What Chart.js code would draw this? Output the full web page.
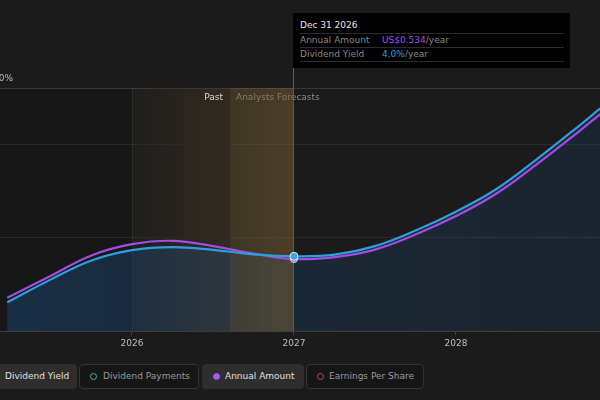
<!DOCTYPE html>
<html lang="en">
<head>
    <meta charset="UTF-8">
    <title>Dividend Chart</title>
    <script src="https://cdn.jsdelivr.net/npm/chart.js"></script>
    <style>
        body { margin: 0; background: #1b1b1b; font-family: "DejaVu Sans", sans-serif; width: 600px; height: 400px; overflow: hidden; position: relative; }
        #wrap { position: absolute; left: 0; top: 0; width: 600px; height: 352px; }
        .tip { position: absolute; left: 293px; top: 13px; width: 264px; height: 55px; background: #000; padding: 0 6px 0 7px; font-size: 9px; color: #8a8a8a; }
        .tip .row { height: 13px; line-height: 13px; border-bottom: 1px solid #2c2c2c; }
        .tip .head { color: #e8e8e8; height: 20px; line-height: 24px; }
        .tip .lab { display: inline-block; width: 82px; }
        .legend { position: absolute; top: 364px; left: 0; height: 25px; }
        .item { position: absolute; top: 0; height: 23px; border: 1px solid #333; border-radius: 4px; font-size: 9px; line-height: 23px; color: #9a9a9a; background: #161616; box-sizing: content-box; }
        .item.on { background: #2e2e2e; border-color: #2e2e2e; color: #e0e0e0; }
        .dot { position: absolute; top: 8px; width: 5px; height: 5px; border-radius: 50%; border: 1.5px solid; }
    </style>
</head>
<body>
    <div id="wrap"><canvas id="dividendChart"></canvas></div>

    <!-- tooltip at the hovered point -->
    <div class="tip">
        <div class="row head">Dec 31 2026</div>
        <div class="row"><span class="lab">Annual Amount</span><span style="color:#a04de6">US$0.534</span>/year</div>
        <div class="row"><span class="lab">Dividend Yield</span><span style="color:#2d9fe0">4.0%</span>/year</div>
    </div>

    <!-- legend -->
    <div class="legend">
        <div class="item on" style="left:-24px;width:99px;"><span style="position:absolute;left:28px;">Dividend Yield</span></div>
        <div class="item" style="left:79px;width:118px;"><span class="dot" style="left:10px;border-color:#3cb4a0;"></span><span style="position:absolute;left:23px;">Dividend Payments</span></div>
        <div class="item on" style="left:202px;width:100px;"><span class="dot" style="left:10px;border-color:#a855f7;background:#a855f7;"></span><span style="position:absolute;left:22px;">Annual Amount</span></div>
        <div class="item" style="left:306px;width:116px;"><span class="dot" style="left:10px;border-color:#c0407a;"></span><span style="position:absolute;left:22px;">Earnings Per Share</span></div>
    </div>

<script>
    // 數據 (年份, 股息率 %, 年度金額 US$)
    const years = [2025.23, 2025.5, 2025.75, 2026.0, 2026.25, 2026.5, 2026.75, 2027.0, 2027.25, 2027.5, 2027.75, 2028.0, 2028.25, 2028.5, 2028.75, 2028.89];
    const dividendYield = [1.54, 2.77, 3.78, 4.33, 4.49, 4.35, 4.11, 4.0, 4.09, 4.55, 5.38, 6.39, 7.60, 9.20, 10.91, 11.91];
    const annualAmount = [0.247, 0.411, 0.561, 0.644, 0.669, 0.630, 0.574, 0.534, 0.548, 0.604, 0.715, 0.852, 1.019, 1.237, 1.470, 1.607];
    const xTicks = [2026, 2027, 2028];
    const pastStart = 2026.0;   // 過去區域起點
    const today = 2026.605;     // Past / Analysts Forecasts 分界
    const hoverYear = 2027.0;   // tooltip 位置

    const ctx = document.getElementById('dividendChart').getContext('2d');

    // 背景區域 + 文字
    const shading = {
        id: 'shading',
        beforeDraw(chart) {
            const { ctx, chartArea: a, scales: { x } } = chart;
            const x0 = x.getPixelForValue(pastStart);
            const x1 = x.getPixelForValue(today);
            ctx.save();
            ctx.fillStyle = 'rgba(0,0,0,0.14)';
            ctx.fillRect(a.left, a.top, x0 - a.left, a.bottom - a.top);
            const g = ctx.createLinearGradient(x0, 0, x1, 0);
            g.addColorStop(0, 'rgba(120,90,50,0.05)');
            g.addColorStop(1, 'rgba(120,90,50,0.26)');
            ctx.fillStyle = g;
            ctx.fillRect(x0, a.top, x1 - x0, a.bottom - a.top);
            ctx.strokeStyle = 'rgba(255,255,230,0.06)';
            ctx.beginPath();
            ctx.moveTo(x0 + 0.5, a.top);
            ctx.lineTo(x0 + 0.5, a.bottom);
            ctx.stroke();
            ctx.font = '9px "DejaVu Sans"';
            ctx.textBaseline = 'middle';
            ctx.textAlign = 'right';
            ctx.fillStyle = '#d8d8d8';
            ctx.fillText('Past', x1 - 7, a.top + 10);
            ctx.textAlign = 'left';
            ctx.fillStyle = '#8a8a8a';
            ctx.fillText('Analysts Forecasts', x1 + 6, a.top + 10);
            ctx.restore();
        },
        // 在填色之後、線條之前
        beforeDatasetsDraw(chart) {
            const { ctx, chartArea: a, scales: { x } } = chart;
            const x1 = x.getPixelForValue(today);
            const x2 = x.getPixelForValue(hoverYear);
            ctx.save();
            const g = ctx.createLinearGradient(x1, 0, x2, 0);
            g.addColorStop(0, 'rgba(125,100,55,0.36)');
            g.addColorStop(1, 'rgba(125,100,55,0.5)');
            ctx.fillStyle = g;
            ctx.fillRect(x1, a.top, x2 - x1, a.bottom - a.top);
            const xh = Math.round(x2) - 0.5;
            ctx.strokeStyle = '#6a5838';
            ctx.lineWidth = 1;
            ctx.beginPath();
            ctx.moveTo(xh, 68);
            ctx.lineTo(xh, a.bottom);
            ctx.stroke();
            ctx.restore();
        }
    };

    const isHover = c => c.raw && c.raw.x === hoverYear;

    new Chart(ctx, {
        type: 'line',
        data: {
            datasets: [
                {
                    label: 'Dividend Yield',
                    data: years.map((y, i) => ({ x: y, y: dividendYield[i] })),
                    yAxisID: 'y',
                    borderColor: '#2d9fe0',
                    borderWidth: 2.2,
                    fill: 'origin',
                    backgroundColor: c => {
                        const a = c.chart.chartArea;
                        if (!a) return 'rgba(30,90,150,0.18)';
                        const g = c.chart.ctx.createLinearGradient(a.left, 0, a.right, 0);
                        g.addColorStop(0, 'rgba(30,100,170,0.32)');
                        g.addColorStop(0.5, 'rgba(30,95,160,0.2)');
                        g.addColorStop(1, 'rgba(30,90,150,0.16)');
                        return g;
                    },
                    tension: 0.4,
                    pointRadius: c => isHover(c) ? 4 : 0,
                    pointBackgroundColor: '#3aa6e0',
                    pointBorderColor: '#dfe6ee',
                    pointBorderWidth: 1,
                    order: 1
                },
                {
                    label: 'Annual Amount',
                    data: years.map((y, i) => ({ x: y, y: annualAmount[i] })),
                    yAxisID: 'y2',
                    borderColor: '#a04de6',
                    borderWidth: 2.2,
                    fill: false,
                    tension: 0.4,
                    pointRadius: c => isHover(c) ? 3.5 : 0,
                    pointBackgroundColor: '#a855f7',
                    pointBorderColor: '#d8d8d8',
                    pointBorderWidth: 1,
                    order: 2
                }
            ]
        },
        options: {
            responsive: true,
            maintainAspectRatio: false,
            animation: false,
            layout: { padding: { top: 88, left: 0, right: 0, bottom: 0 } },
            plugins: {
                legend: { display: false },
                tooltip: { enabled: false },
                filler: { drawTime: 'beforeDatasetsDraw' }
            },
            scales: {
                x: {
                    type: 'linear',
                    min: 2026 - 132 / 162,
                    max: 2026 + 468 / 162,
                    afterBuildTicks: s => { s.ticks = xTicks.map(v => ({ value: v })); },
                    ticks: { color: '#bdbdbd', font: { family: 'DejaVu Sans', size: 9 }, padding: 3, callback: v => String(v) },
                    grid: { drawOnChartArea: false, drawTicks: true, tickLength: 4, color: '#444' },
                    border: { color: '#3c3c3c' }
                },
                y: {
                    min: 0,
                    max: 13,
                    afterBuildTicks: s => { s.ticks = [0, 5, 10, 13].map(v => ({ value: v })); },
                    afterFit: s => { s.width = 0; },
                    ticks: {
                        mirror: true,
                        padding: -7,
                        labelOffset: -9,
                        color: '#bdbdbd',
                        font: { family: 'DejaVu Sans', size: 9 },
                        callback: v => v === 13 ? '10%' : ''
                    },
                    grid: { drawTicks: false, color: c => c.tick && c.tick.value === 13 ? '#383838' : '#2a2a2a' },
                    border: { display: false }
                },
                y2: { display: false, min: 0, max: 1.8 }
            }
        },
        plugins: [shading]
    });
</script>
</body>
</html>
